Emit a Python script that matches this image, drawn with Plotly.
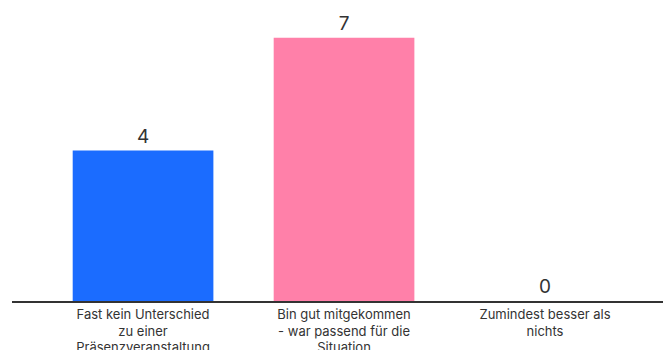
import plotly.graph_objects as go

categories = ["Fast kein Unterschied<br>zu einer<br>Präsenzveranstaltung",
              "Bin gut mitgekommen<br>- war passend für die<br>Situation",
              "Zumindest besser als<br>nichts"]
values = [4, 7, 0]
colors = ["#1b6cff", "#ff80a9", "#6a5acd"]

fig = go.Figure(go.Bar(
    x=categories, y=values, marker_color=colors, marker_line_width=0,
    text=[str(v) for v in values], textposition="outside", cliponaxis=False,
    textfont=dict(size=19, color="#333333", family="Inter"),
    width=0.7,
))
fig.update_layout(
    width=663, height=350, margin=dict(l=12, r=0, t=0, b=49, autoexpand=False),
    paper_bgcolor="white", plot_bgcolor="white", showlegend=False,
    font=dict(family="Inter", color="#333333", size=13),
    xaxis=dict(range=[-0.652, 2.587], showline=True, linecolor="#333333", linewidth=2,
               showgrid=False, tickfont=dict(size=13, color="#333333"), fixedrange=True,
               ticklabelstandoff=0, automargin=False),
    yaxis=dict(range=[0, 8], visible=False, showgrid=False, fixedrange=True,
               automargin=False),
    bargap=0.3,
)
fig.write_html("out.html")
